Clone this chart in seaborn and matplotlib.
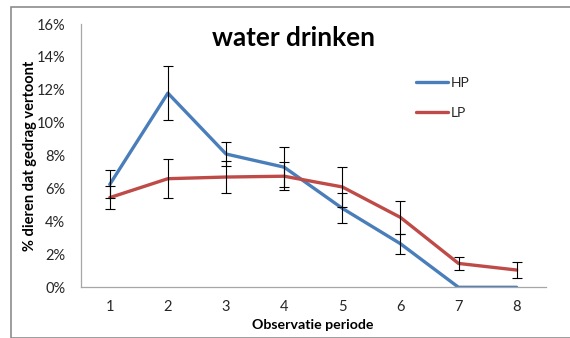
import matplotlib
matplotlib.use("Agg")
import matplotlib.pyplot as plt
from matplotlib.patches import Rectangle
from matplotlib.lines import Line2D
from matplotlib.ticker import PercentFormatter, FixedLocator
import numpy as np
import pandas as pd
import seaborn as sns

# Observation periods and percentage of animals showing drinking behaviour
periods = [1, 2, 3, 4, 5, 6, 7, 8]
hp_values = [6.25, 11.8, 8.1, 7.3, 4.8, 2.65, 0.0, 0.0]
hp_errors = [0.85, 1.65, 0.7, 1.2, 0.9, 0.6, 0.0, 0.0]
lp_values = [5.45, 6.6, 6.7, 6.75, 6.1, 4.25, 1.45, 1.05]
lp_errors = [0.7, 1.2, 1.0, 0.85, 1.2, 1.0, 0.42, 0.48]
groups = ["HP", "LP"]
colors = {"HP": "#4A7EBB", "LP": "#BE4B48"}

df = pd.DataFrame({
    "periode": periods * 2,
    "waarde": hp_values + lp_values,
    "fout": hp_errors + lp_errors,
    "groep": ["HP"] * len(periods) + ["LP"] * len(periods),
})

sns.set_theme(style="white")
plt.rcParams["font.family"] = ["Lato", "DejaVu Sans"]

W, H = 570, 338
fig = plt.figure(figsize=(W / 100, H / 100), dpi=100)
ax = fig.add_axes([80.7 / W, 1 - 287.3 / H, (545.7 - 80.7) / W, (287.3 - 24) / H])

sns.lineplot(data=df, x="periode", y="waarde", hue="groep", hue_order=groups,
             palette=colors, linewidth=2.4, errorbar=None, ax=ax, legend=False)

for g in groups:
    sub = df[(df["groep"] == g) & (df["fout"] > 0)]
    ax.errorbar(sub["periode"], sub["waarde"], yerr=sub["fout"], fmt="none",
                ecolor="black", elinewidth=0.8, capsize=3.5, capthick=0.8, zorder=5)

ax.set_xlim(0.5, 8.5)
ax.set_ylim(0, 16)
ax.yaxis.set_major_locator(FixedLocator(np.arange(0, 17, 2)))
ax.yaxis.set_major_formatter(PercentFormatter(xmax=100, decimals=0))
ax.set_xticks(periods)
ax.set_xticks(np.arange(0.5, 9, 1), minor=True)
ax.tick_params(axis="x", which="major", length=0, pad=9, labelsize=10.5, labelcolor="#262626")
ax.tick_params(axis="x", which="minor", length=5, width=0.9, color="#A6A6A6", direction="out")
ax.tick_params(axis="y", which="major", length=5, width=0.9, color="#A6A6A6",
               direction="out", pad=6, labelsize=10.5, labelcolor="#262626")

for side in ["top", "right"]:
    ax.spines[side].set_visible(False)
for side in ["left", "bottom"]:
    ax.spines[side].set_color("#A6A6A6")
    ax.spines[side].set_linewidth(0.9)

ax.set_xlabel("Observatie periode", fontsize=10.2, fontweight="bold", labelpad=4, color="black")
ax.set_ylabel("% dieren dat gedrag vertoont", fontsize=10.5, fontweight="bold", labelpad=0, color="black")

fig.text(293 / W, 1 - 38 / H, "water drinken", fontsize=18.8, fontweight="bold",
         ha="center", va="center", color="black")

handles = [Line2D([], [], color=colors[g], linewidth=2.4) for g in groups]
leg = ax.legend(handles, groups, loc="upper left", bbox_to_anchor=(406 / W, 1 - 67 / H),
                bbox_transform=fig.transFigure, frameon=False, fontsize=10,
                handlelength=2.3, handletextpad=0.2, labelspacing=1.3, borderpad=0.2)

fig.patches.append(Rectangle((11 / W, 0.5 / H), 1.2, 1 - 7.5 / H, transform=fig.transFigure,
                             fill=False, edgecolor="#8C8C8C", linewidth=1.2, zorder=0))

fig.savefig("out.png", dpi=100)
